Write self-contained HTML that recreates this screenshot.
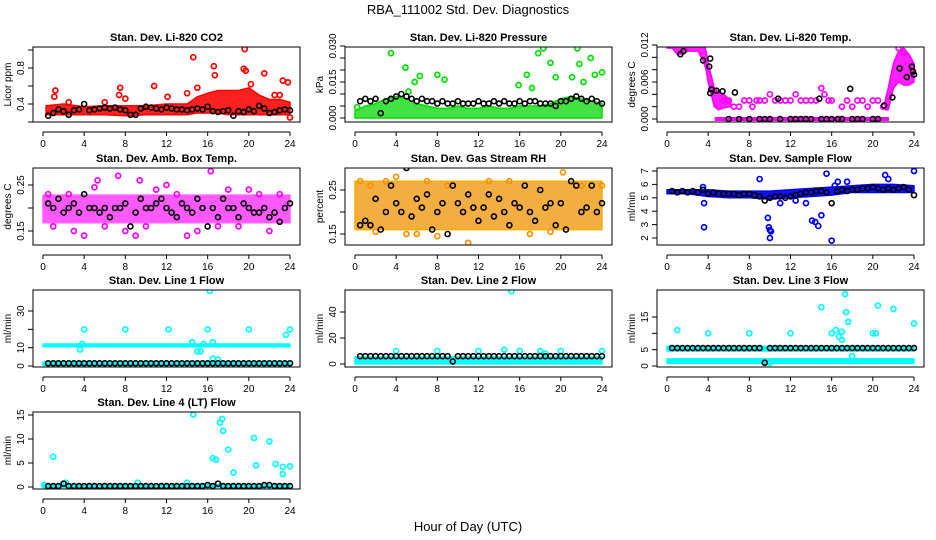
<!DOCTYPE html>
<html><head><meta charset="utf-8"><style>
html,body{margin:0;padding:0;background:#fff;}
svg{display:block;font-family:"Liberation Sans",Arial,sans-serif;}
</style></head><body>
<svg id="chart" width="936" height="540" viewBox="0 0 936 540" xmlns="http://www.w3.org/2000/svg">
<text x="468" y="14" text-anchor="middle" font-size="13">RBA_111002  Std. Dev. Diagnostics</text>
<text x="468" y="531" text-anchor="middle" font-size="13">Hour of Day (UTC)</text>
</svg>
<script>
// shared hours for black points
const H48=[0.5,1,1.5,2,2.5,3,3.5,4,4.5,5,5.5,6,6.5,7,7.5,8,8.5,9,9.5,10,10.5,11,11.5,12,12.5,13,13.5,14,14.5,15,15.5,16,16.5,17,17.5,18,18.5,19,19.5,20,20.5,21,21.5,22,22.5,23,23.5,24];
const xTicks=[0,4,8,12,16,20,24];

// CO2
const co2BandHours=[0.3,2,4,6,8,10,12,14,15,16,17,18,19,20,21,22,23,24];
const co2BandLo=[0.28,0.28,0.28,0.28,0.27,0.28,0.28,0.28,0.3,0.3,0.3,0.28,0.28,0.28,0.28,0.28,0.28,0.28];
const co2BandHi=[0.38,0.4,0.37,0.38,0.38,0.38,0.4,0.4,0.48,0.52,0.55,0.55,0.55,0.58,0.5,0.45,0.45,0.42];
const co2OutHours=[1.2,1.1,2.5,7.5,7.4,8,10.8,12.1,14,14.6,15,16.6,16.7,19.5,19.7,19.6,20.2,21.5,23.3,23.8,23,22.5,24,6];
const co2OutVals=[0.55,0.48,0.42,0.58,0.5,0.46,0.6,0.48,0.52,0.92,0.58,0.82,0.72,0.79,0.77,1.01,0.62,0.74,0.66,0.64,0.5,0.5,0.25,0.42];
const co2Black=[0.27,0.3,0.34,0.32,0.28,0.33,0.34,0.4,0.33,0.34,0.35,0.36,0.35,0.36,0.34,0.33,0.28,0.28,0.35,0.37,0.36,0.35,0.34,0.36,0.35,0.34,0.34,0.33,0.34,0.35,0.34,0.37,0.32,0.31,0.32,0.33,0.27,0.32,0.31,0.34,0.32,0.38,0.35,0.3,0.31,0.33,0.34,0.33];

// Pressure
const prBandHours=[0,1,2,3,4,5,6,7,8,9,10,11,12,13,14,15,16,17,18,19,20,21,22,23,24];
const prBandLo=[0,0,0,0,0,0,0,0,0,0,0,0,0,0,0,0,0,0,0,0,0,0,0,0,0];
const prBandHi=[0.003,0.005,0.006,0.008,0.009,0.008,0.006,0.005,0.004,0.004,0.005,0.004,0.004,0.005,0.004,0.004,0.005,0.005,0.005,0.006,0.008,0.009,0.008,0.007,0.006];
const prOutHours=[0.2,3.5,4.9,6.3,5.8,5.2,8,8.7,15.9,17.8,18.3,16.7,17.2,19,19.5,21.6,21.8,21.1,22.2,22.9,23.3,24];
const prOutVals=[0.0045,0.027,0.021,0.0175,0.015,0.011,0.018,0.016,0.0137,0.027,0.029,0.018,0.0125,0.023,0.017,0.029,0.0225,0.017,0.015,0.025,0.018,0.019];
const prBlack=[0.007,0.008,0.007,0.008,0.002,0.007,0.008,0.009,0.010,0.009,0.008,0.007,0.008,0.007,0.007,0.006,0.007,0.006,0.006,0.007,0.006,0.006,0.006,0.007,0.006,0.006,0.007,0.006,0.007,0.006,0.006,0.007,0.006,0.007,0.007,0.006,0.006,0.006,0.005,0.007,0.007,0.008,0.009,0.008,0.007,0.008,0.007,0.006];

// Li-820 Temp
const tBandHours=[0,0.5,1,1.5,2,2.5,3,3.5,3.8,4,4.3,4.6,5,5.5,6.2];
const tBandLo=[0.0115,0.0115,0.0105,0.0105,0.011,0.011,0.011,0.0095,0.008,0.006,0.004,0.002,0.0015,0.0018,0.002];
const tBandHi=[0.0132,0.0132,0.013,0.0128,0.013,0.013,0.013,0.0125,0.011,0.009,0.007,0.005,0.0045,0.004,0.003];
const tBand2Hours=[21.2,21.5,22,22.5,23,23.5,24];
const tBand2Lo=[0.0015,0.0015,0.005,0.006,0.0055,0.0055,0.006];
const tBand2Hi=[0.003,0.005,0.009,0.011,0.0115,0.0105,0.009];
const tZeroHours=[4.7,21.5];
const tZeroLo=[-0.0002,-0.0002];
const tZeroHi=[0.0002,0.0002];
const tOutHours=[5.5,6,6.5,7,7.5,8,8.3,8.7,9,9.5,10,10.5,11,11.5,12,12.5,13,13.5,14,14.5,15,15.3,15.7,16,17,17.5,18,18.5,19,19.5,20,20.5,21,22.5,23];
const tOutVals=[0.003,0.003,0.002,0.002,0.003,0.003,0.002,0.003,0.003,0.003,0.004,0.003,0.003,0.003,0.003,0.004,0.003,0.003,0.003,0.003,0.005,0.004,0.003,0.003,0.002,0.003,0.002,0.003,0.003,0.002,0.003,0.003,0.002,0.0115,0.0108];
const tBlackHours=[0.8,1.3,1.6,2.2,3,3.5,4.2,4.1,4.3,4.2,4.8,5.4,6.6,10.8,14.8,17.8,21.1,21.9,22.6,23.3,23.8,24,23.9,6,7,8,9,9.5,10,11,12,12.5,13,13.5,14,15,15.5,16,16.6,17,18,18.5,19,20,20.5];
const tBlackVals=[0.0122,0.0105,0.011,0.0126,0.0122,0.0095,0.0098,0.0085,0.0048,0.0042,0.0046,0.0045,0.0043,0.0033,0.0033,0.0049,0.0022,0.0035,0.0082,0.0068,0.0085,0.0072,0.0077,0,0,0,0,0,0,0,0,0,0,0,0,0,0,0,0,0,0,0,0,0,0];

// Amb box temp
const abBandHours=[0,24];
const abBandLo=[0.168,0.168];
const abBandHi=[0.228,0.228];
const abOutHours=[7.3,9.4,5.3,16.3,9,1,4,8,12,14,18,22,23,2.5,20,11,6,13,17,19,21,15,3,10,0.5,5];
const abOutVals=[0.27,0.26,0.26,0.28,0.14,0.16,0.14,0.15,0.25,0.14,0.24,0.15,0.23,0.23,0.24,0.24,0.16,0.23,0.16,0.16,0.23,0.15,0.15,0.16,0.23,0.245];
const abBlack=[0.21,0.2,0.22,0.19,0.2,0.21,0.19,0.23,0.2,0.2,0.19,0.2,0.18,0.2,0.2,0.21,0.16,0.19,0.22,0.2,0.2,0.21,0.22,0.2,0.19,0.18,0.21,0.2,0.19,0.22,0.2,0.16,0.2,0.18,0.22,0.2,0.2,0.18,0.21,0.2,0.19,0.19,0.2,0.18,0.19,0.17,0.2,0.21];

// Gas stream RH
const rhBandHours=[0,24];
const rhBandLo=[0.16,0.16];
const rhBandHi=[0.27,0.27];
const rhOutHours=[0.5,1.5,3,4,5,6,7,9,11,13,15,17,20.2,22,24,2,8,19];
const rhOutVals=[0.27,0.26,0.27,0.28,0.15,0.15,0.27,0.26,0.13,0.27,0.27,0.15,0.29,0.26,0.26,0.155,0.145,0.155];
const rhBlack=[0.17,0.18,0.17,0.23,0.16,0.2,0.26,0.22,0.2,0.3,0.19,0.23,0.21,0.24,0.16,0.2,0.22,0.15,0.26,0.22,0.2,0.24,0.21,0.18,0.21,0.24,0.19,0.23,0.2,0.17,0.22,0.21,0.26,0.2,0.18,0.25,0.21,0.22,0.17,0.22,0.16,0.27,0.26,0.2,0.21,0.26,0.2,0.22];

// Sample flow
const sfBandHours=[0,2,4,6,8,10,12,14,16,18,20,22,24];
const sfBandLo=[5.3,5.3,5.1,5.0,5.0,4.9,5.0,5.1,5.2,5.4,5.4,5.4,5.4];
const sfBandHi=[5.6,5.6,5.6,5.5,5.5,5.5,5.6,5.7,5.8,5.9,6.0,6.0,5.9];
const sfOutHours=[3.6,3.6,9,9.8,9.9,10,10.1,10,14.1,14.4,14.7,15,15.5,16,16.6,16.3,21.2,21.5,24,11,3.5,17.5,12.5,13.5];
const sfOutVals=[2.8,4.6,6.4,3.5,2.8,2.6,2.5,2.0,3.3,3.2,2.9,3.7,6.8,1.8,6.2,5.9,6.7,6.4,7.0,4.6,5.8,6.2,4.8,4.6];
const sfBlack=[5.5,5.4,5.5,5.4,5.5,5.4,5.6,5.3,5.4,5.3,5.3,5.3,5.3,5.2,5.3,5.3,5.2,5.1,4.8,5.0,5.1,5.1,5.0,5.1,5.2,5.3,5.4,5.4,5.5,5.5,5.4,4.6,5.5,5.6,5.5,5.6,5.6,5.7,5.7,5.8,5.7,5.6,5.7,5.6,5.7,5.8,5.6,5.2];

// Line 1 flow
const l1BandHours=[0,24];
const l1BandLo=[10.5,10.5];
const l1BandHi=[12,12];
const l1Band2Lo=[0.3,0.3];
const l1Band2Hi=[2.2,2.2];
const l1OutHours=[4,3.8,3.6,8,12.2,14.5,15,15.3,15.6,16,16.2,16.5,20,23.6,24,16.5,17];
const l1OutVals=[20,12,9,20,20,13,8,8,12,20,41,13,20,17,20,4,3.5];
const l1Black=[1.5,1.5,1.5,1.5,1.5,1.5,1.5,1.5,1.5,1.5,1.5,1.5,1.5,1.5,1.5,1.5,1.5,1.5,1.5,1.5,1.5,1.5,1.5,1.5,1.5,1.5,1.5,1.5,1.5,1.5,1.5,1.5,1.5,1.5,1.5,1.5,1.5,1.5,1.5,1.5,1.5,1.5,1.5,1.5,1.5,1.5,1.5,1.5];

// Line 2 flow
const l2BandHours=[0,24];
const l2BandLo=[0,0];
const l2BandHi=[5.5,5.5];
const l2OutHours=[4,8,12,14.5,15.2,16,18,20,24,18.5];
const l2OutVals=[10,10,10,11,56,10,10,10,10,8];
const l2Black=[6,6,6,6,6,6,6,6,6,6,6,6,6,6,6,6,6,6,2,6,6,6,6,6,6,6,6,6,6,6,6,6,6,6,6,6,6,6,6,6,6,6,6,6,6,6,6,6];

// Line 3 flow
const l3BandHours=[0,24];
const l3BandLo=[4.6,4.6];
const l3BandHi=[6,6];
const l3Band2Lo=[0.8,0.8];
const l3Band2Hi=[2.2,2.2];
const l3OutHours=[1,4,8,12,15,16,16.4,16.7,17,17.3,17.4,17.6,17,20,20.3,20.5,22,24,10,18];
const l3OutVals=[11,10,10,10,18,10,11,9,10.5,22,16.5,13.5,8,10,10,18.5,17.5,13,1,3];
const l3Black=[5.5,5.5,5.5,5.5,5.5,5.5,5.5,5.5,5.5,5.5,5.5,5.5,5.5,5.5,5.5,5.5,5.5,5.5,1,5.5,5.5,5.5,5.5,5.5,5.5,5.5,5.5,5.5,5.5,5.5,5.5,5.5,5.5,5.5,5.5,5.5,5.5,5.5,5.5,5.5,5.5,5.5,5.5,5.5,5.5,5.5,5.5,5.5];

// Line 4 flow
const l4BandHours=[0,24];
const l4BandLo=[-0.1,-0.1];
const l4BandHi=[0.5,0.5];
const l4OutHours=[1,14.6,17.2,17.4,17.5,18,16.5,16.8,18.5,20.5,20.7,22,22.6,23.3,23.3,24,2.2,9.2,14,0.1];
const l4OutVals=[6.3,15.1,13.4,14.2,11.7,7.8,6,5.7,3,10.2,4.5,9.5,4.8,4.2,2.7,4.3,0.9,0.9,0.9,0.4];
const l4Black=[0.2,0.2,0.2,0.7,0.2,0.2,0.2,0.2,0.2,0.2,0.2,0.2,0.2,0.2,0.2,0.2,0.2,0.2,0.2,0.2,0.2,0.2,0.2,0.2,0.2,0.2,0.2,0.2,0.2,0.2,0.2,0.4,0.2,0.7,0.2,0.2,0.2,0.2,0.2,0.2,0.2,0.2,0.4,0.4,0.2,0.2,0.2,0.2];

const NS='http://www.w3.org/2000/svg';
const svg=document.getElementById('chart');
function mk(tag,attrs,parent){const e=document.createElementNS(NS,tag);for(const k in attrs)e.setAttribute(k,attrs[k]);(parent||svg).appendChild(e);return e;}

const colX=[[33,300],[345,612],[657,924]];
const rowY=[[47,122],[168,245],[290,367],[412,489]];

function panel(p){
  const [fl,fr]=colX[p.col];const [ft,fb]=rowY[p.row];
  const x0=fl+10,x1=fr-10;
  const xs=h=>x0+(x1-x0)*h/24;
  const Y=v=>p.yp0+(v-p.yv0)*(p.yp1-p.yp0)/(p.yv1-p.yv0);
  const g=mk('g',{});
  
  
  const cp='clip-'+p.name;
  const defs=mk('clipPath',{id:cp},g);mk('rect',{x:fl,y:ft,width:fr-fl,height:fb-ft},defs);
  const data=mk('g',{'clip-path':'url(#'+cp+')'},g);
  (p.bands||[]).forEach(b=>{
    let pts=[];
    for(let i=0;i<b.h.length;i++)pts.push(xs(b.h[i])+','+Y(b.hi[i]));
    for(let i=b.h.length-1;i>=0;i--)pts.push(xs(b.h[i])+','+Y(b.lo[i]));
    const poly=mk('polygon',{points:pts.join(' '),fill:b.fill,'fill-opacity':b.op||1,stroke:b.color,'stroke-width':1.5,'stroke-linejoin':'round'},data);
    
    
  });
  for(let i=0;i<p.oh.length;i++){
    const c=mk('circle',{cx:xs(p.oh[i]),cy:Y(p.ov[i]),r:2.5,fill:'none',stroke:p.color,'stroke-width':1.7},data);
    
    
  }
  for(let i=0;i<Math.min(p.bh.length,p.bv.length);i++){
    const c=mk('circle',{cx:xs(p.bh[i]),cy:Y(p.bv[i]),r:2.5,fill:'none',stroke:'#000','stroke-width':1.6},data);
    
    
  }
  const fr1=mk('rect',{x:fl,y:ft,width:fr-fl,height:fb-ft,fill:'none',stroke:'#000','stroke-width':1},g);
  
  
  const t=mk('text',{x:(fl+fr)/2,y:ft-6,'text-anchor':'middle','font-size':11,'font-weight':'bold'},g);t.textContent=p.title;
  
  
  const ay=fb+10;
  mk('line',{x1:xs(0),x2:xs(24),y1:ay,y2:ay,stroke:'#000'},g);
  xTicks.forEach(h=>{mk('line',{x1:xs(h),x2:xs(h),y1:ay,y2:ay+4,stroke:'#000'},g);
    const l=mk('text',{x:xs(h),y:ay+15,'text-anchor':'middle','font-size':10},g);l.textContent=h;
    
    });
  const tk=p.yTicks;
  mk('line',{x1:fl,x2:fl,y1:Y(tk[0]),y2:Y(tk[tk.length-1]),stroke:'#000'},g);
  tk.forEach((v,i)=>{mk('line',{x1:fl,x2:fl-5,y1:Y(v),y2:Y(v),stroke:'#000'},g);
    if(p.yLabels[i]!==''){const l=mk('text',{x:0,y:0,'text-anchor':'middle','font-size':10,transform:'translate('+(fl-9)+','+Y(v)+') rotate(-90)'},g);l.textContent=p.yLabels[i];
    
    }});
  const yt=mk('text',{x:0,y:0,'text-anchor':'middle','font-size':10,transform:'translate('+(fl-22)+','+((ft+fb)/2)+') rotate(-90)'},g);yt.textContent=p.ylab;
  
  
}

panel({name:'co2-panel',col:0,row:0,title:'Stan. Dev. Li-820 CO2',ylab:'Licor ppm',color:'#ff0000',yv0:0.4,yp0:104,yv1:0.8,yp1:68,
  yTicks:[0.2,0.4,0.6,0.8,1.0],yLabels:['','0.4','','0.8',''],
  bands:[{h:co2BandHours,lo:co2BandLo,hi:co2BandHi,fill:'#ff2020',color:'#ff0000'}],oh:co2OutHours,ov:co2OutVals,bh:H48,bv:co2Black});
panel({name:'pressure-panel',col:1,row:0,title:'Stan. Dev. Li-820 Pressure',ylab:'kPa',color:'#00e000',yv0:0,yp0:118,yv1:0.03,yp1:46,
  yTicks:[0,0.005,0.01,0.015,0.02,0.025,0.03],yLabels:['0.000','','','0.015','','','0.030'],
  bands:[{h:prBandHours,lo:prBandLo,hi:prBandHi,fill:'#22dd22',color:'#00dd00',op:0.85}],oh:prOutHours,ov:prOutVals,bh:H48,bv:prBlack});
panel({name:'li820-temp-panel',col:2,row:0,title:'Stan. Dev. Li-820 Temp.',ylab:'degrees C',color:'#ff00ff',yv0:0,yp0:119,yv1:0.012,yp1:45,
  yTicks:[0,0.002,0.004,0.006,0.008,0.01,0.012],yLabels:['0.000','','','0.006','','','0.012'],
  bands:[{h:tBandHours,lo:tBandLo,hi:tBandHi,fill:'#ff20ff',color:'#ff00ff'},{h:tBand2Hours,lo:tBand2Lo,hi:tBand2Hi,fill:'#ff20ff',color:'#ff00ff'},{h:tZeroHours,lo:tZeroLo,hi:tZeroHi,fill:'#ff00ff',color:'#ff00ff'}],
  oh:tOutHours,ov:tOutVals,bh:tBlackHours,bv:tBlackVals});
panel({name:'amb-box-temp-panel',col:0,row:1,title:'Stan. Dev. Amb. Box Temp.',ylab:'degrees C',color:'#ff00ff',yv0:0.15,yp0:231,yv1:0.25,yp1:185,
  yTicks:[0.15,0.2,0.25],yLabels:['0.15','','0.25'],
  bands:[{h:abBandHours,lo:abBandLo,hi:abBandHi,fill:'#ff30ff',color:'#ff60ff',op:0.8}],oh:abOutHours,ov:abOutVals,bh:H48,bv:abBlack});
panel({name:'gas-stream-rh-panel',col:1,row:1,title:'Stan. Dev. Gas Stream RH',ylab:'percent',color:'#ff9000',yv0:0.15,yp0:234,yv1:0.25,yp1:190,
  yTicks:[0.15,0.2,0.25],yLabels:['0.15','','0.25'],
  bands:[{h:rhBandHours,lo:rhBandLo,hi:rhBandHi,fill:'#f0a020',color:'#f4b000',op:0.85}],oh:rhOutHours,ov:rhOutVals,bh:H48,bv:rhBlack});
panel({name:'sample-flow-panel',col:2,row:1,title:'Stan. Dev. Sample Flow',ylab:'ml/min',color:'#0000ff',yv0:2,yp0:238,yv1:7,yp1:171,
  yTicks:[2,3,4,5,6,7],yLabels:['2','3','4','5','6','7'],
  bands:[{h:sfBandHours,lo:sfBandLo,hi:sfBandHi,fill:'#1010ff',color:'#0000ff'}],oh:sfOutHours,ov:sfOutVals,bh:H48,bv:sfBlack});
panel({name:'line1-flow-panel',col:0,row:2,title:'Stan. Dev. Line 1 Flow',ylab:'ml/min',color:'#00ffff',yv0:0,yp0:366,yv1:30,yp1:311,
  yTicks:[0,10,20,30],yLabels:['0','10','','30'],
  bands:[{h:l1BandHours,lo:l1BandLo,hi:l1BandHi,fill:'#00ffff',color:'#00ffff'},{h:l1BandHours,lo:l1Band2Lo,hi:l1Band2Hi,fill:'#00ffff',color:'#00ffff'}],oh:l1OutHours,ov:l1OutVals,bh:H48,bv:l1Black});
panel({name:'line2-flow-panel',col:1,row:2,title:'Stan. Dev. Line 2 Flow',ylab:'ml/min',color:'#00ffff',yv0:0,yp0:364,yv1:40,yp1:312,
  yTicks:[0,20,40],yLabels:['0','20','40'],
  bands:[{h:l2BandHours,lo:l2BandLo,hi:l2BandHi,fill:'#00ffff',color:'#00ffff'}],oh:l2OutHours,ov:l2OutVals,bh:H48,bv:l2Black});
panel({name:'line3-flow-panel',col:2,row:2,title:'Stan. Dev. Line 3 Flow',ylab:'ml/min',color:'#00ffff',yv0:0,yp0:366,yv1:15,yp1:317,
  yTicks:[0,5,10,15],yLabels:['0','5','','15'],
  bands:[{h:l3BandHours,lo:l3BandLo,hi:l3BandHi,fill:'#00ffff',color:'#00ffff'},{h:l3BandHours,lo:l3Band2Lo,hi:l3Band2Hi,fill:'#00ffff',color:'#00ffff'}],oh:l3OutHours,ov:l3OutVals,bh:H48,bv:l3Black});
panel({name:'line4-flow-panel',col:0,row:3,title:'Stan. Dev. Line 4 (LT) Flow',ylab:'ml/min',color:'#00ffff',yv0:0,yp0:487,yv1:15,yp1:415,
  yTicks:[0,5,10,15],yLabels:['0','5','10','15'],
  bands:[{h:l4BandHours,lo:l4BandLo,hi:l4BandHi,fill:'#00ffff',color:'#00ffff'}],oh:l4OutHours,ov:l4OutVals,bh:H48,bv:l4Black});
</script>
</body></html>
